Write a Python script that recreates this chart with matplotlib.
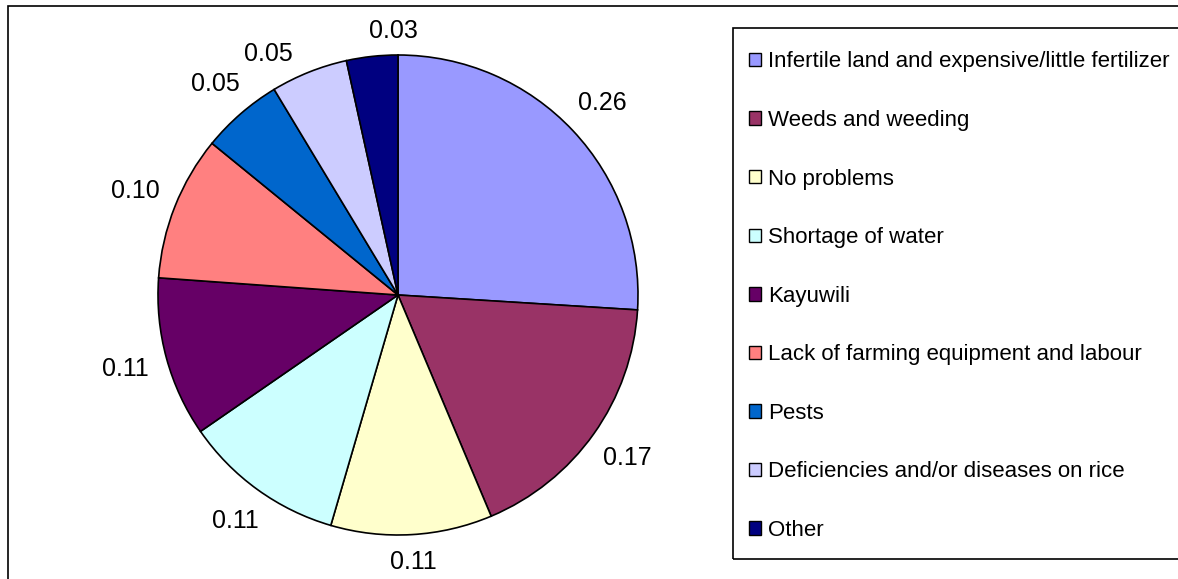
import numpy as np
import matplotlib.pyplot as plt
from matplotlib.patches import Rectangle

plt.rcParams['font.family'] = ['Liberation Sans', 'DejaVu Sans']

# share of farmers naming each problem
problems = ['Infertile land and expensive/little fertilizer',
            'Weeds and weeding',
            'No problems',
            'Shortage of water',
            'Kayuwili',
            'Lack of farming equipment and labour',
            'Pests',
            'Deficiencies and/or diseases on rice',
            'Other']
shares = [0.256, 0.174, 0.107, 0.107, 0.106, 0.096, 0.054, 0.051, 0.034]
colors = ['#9999FF', '#993366', '#FFFFCC', '#CCFFFF', '#660066',
          '#FF8080', '#0066CC', '#CCCCFF', '#000080']

W, H = 1178, 579
fig = plt.figure(figsize=(W / 100, H / 100), dpi=100)

# outer chart border (runs off the right and bottom edges)
fig.patches.append(Rectangle((8 / W, -0.05), 1.1, 1 - 6 / H + 0.05,
                             transform=fig.transFigure, fill=False,
                             edgecolor='black', linewidth=1.2))
# legend box, also cut off on the right
fig.patches.append(Rectangle((733 / W, 1 - 559 / H), 1.1, (559 - 28) / H,
                             transform=fig.transFigure, fill=False,
                             edgecolor='black', linewidth=1.2))

cx, cy, r = 398, H - 295, 240
ax = fig.add_axes([(cx - r) / W, (cy - r) / H, 2 * r / W, 2 * r / H])
wedges, texts = ax.pie(shares, colors=colors, startangle=90, counterclock=False,
                       labels=['%.2f' % s for s in shares],
                       wedgeprops=dict(edgecolor='black', linewidth=1.2),
                       textprops=dict(fontsize=18, color='black'))

# put each value label just outside its wedge, pushed out by half the text box
gap, half_w, half_h = 0.07, 0.10, 0.038
# the two small slices at the top crowd each other, spread their labels apart (px)
nudge = {7: (-28, -14), 8: (24, -3)}
for i, (w, t) in enumerate(zip(wedges, texts)):
    ang = np.deg2rad((w.theta1 + w.theta2) / 2)
    c, s = np.cos(ang), np.sin(ang)
    d = 1 + gap + abs(c) * half_w + abs(s) * half_h
    dx, dy = nudge.get(i, (0, 0))
    t.set_position((d * c + dx / r, d * s + dy / r))
    t.set_horizontalalignment('center')
    t.set_verticalalignment('center')
ax.set_aspect('equal')
ax.set_xlim(-1, 1)
ax.set_ylim(-1, 1)

leg = fig.legend(wedges, problems, loc='upper left',
                 bbox_to_anchor=(749 / W, 1 - 51.5 / H),
                 fontsize=16, frameon=False,
                 handlelength=0.55, handleheight=0.55, handletextpad=0.3,
                 labelspacing=1.69, borderpad=0, borderaxespad=0)
for h in leg.legend_handles:
    h.set_linewidth(1.0)
    h.set_edgecolor('black')

fig.savefig('out.png', dpi=100)
